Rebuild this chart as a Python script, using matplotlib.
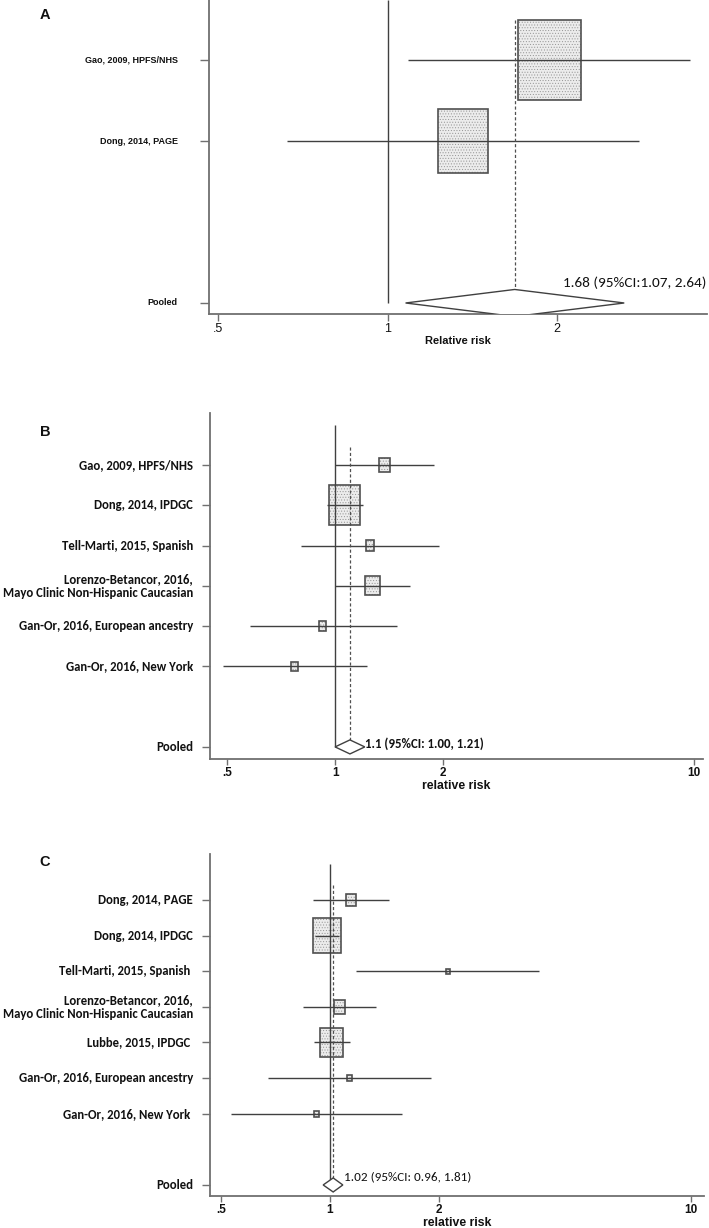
import numpy as np
import matplotlib
matplotlib.use("Agg")
import matplotlib.pyplot as plt
from matplotlib import font_manager as fm
from matplotlib.patches import Rectangle, Polygon
from matplotlib.transforms import ScaledTranslation

# datos de cada panel (riesgo relativo, IC95%, peso %)
labels_a = ["Gao, 2009, HPFS/NHS", "Dong, 2014, PAGE"]
rr_a = [1.94, 1.36]
lo_a = [1.085, 0.662]
hi_a = [3.44, 2.79]
wt_a = [60.7, 39.3]
pool_a = [1.68, 1.075, 2.63]
text_a = "1.68 (95%CI:1.07, 2.64)"

labels_b = ["Gao, 2009, HPFS/NHS", "Dong, 2014, IPDGC", "Tell-Marti, 2015, Spanish",
            "Lorenzo-Betancor, 2016,\nMayo Clinic Non-Hispanic Caucasian",
            "Gan-Or, 2016, European ancestry", "Gan-Or, 2016, New York"]
rr_b = [1.374, 1.061, 1.253, 1.271, 0.921, 0.772]
lo_b = [1.0, 0.949, 0.805, 1.0, 0.578, 0.486]
hi_b = [1.89, 1.196, 1.943, 1.62, 1.485, 1.231]
wt_b = [8.1, 65.2, 4.6, 14.6, 3.8, 3.8]
pool_b = [1.1, 1.0, 1.21]
text_b = "1.1 (95%CI: 1.00, 1.21)"

labels_c = ["Dong, 2014, PAGE", "Dong, 2014, IPDGC", "Tell-Marti, 2015, Spanish ",
            "Lorenzo-Betancor, 2016,\nMayo Clinic Non-Hispanic Caucasian",
            "Lubbe, 2015, IPDGC ", "Gan-Or, 2016, European ancestry", "Gan-Or, 2016, New York "]
rr_c = [1.143, 0.98, 2.124, 1.065, 1.01, 1.131, 0.918]
lo_c = [0.897, 0.91, 1.182, 0.841, 0.90, 0.675, 0.532]
hi_c = [1.456, 1.06, 3.78, 1.341, 1.135, 1.903, 1.586]
wt_c = [6.5, 49.6, 0.9, 7.9, 32.3, 1.4, 1.4]
pool_c = [1.02, 0.957, 1.085]
text_c = "1.02 (95%CI: 0.96, 1.81)"


def pick(names):
    for n in names:
        try:
            fm.findfont(fm.FontProperties(family=n), fallback_to_default=False)
            return n
        except Exception:
            pass
    return "DejaVu Sans"


narrow = pick(["Liberation Sans Narrow", "Arial Narrow"])
arial = pick(["Liberation Sans", "Arial"])
calib = pick(["Carlito", "Lato", "Open Sans"])
if narrow == "DejaVu Sans":
    narrow = arial

plt.rcParams["hatch.linewidth"] = 0.4
W, H = 709, 1228
fig = plt.figure(figsize=(W / 100, H / 100), dpi=100)

LINE = "#404040"
SPINE = "#707070"


def fit(texts, ref, target_px):
    # ajusta el tamano de letra para que el texto de referencia mida target_px de ancho
    r = fig.canvas.get_renderer()
    wpx = ref.get_window_extent(r).width
    f = target_px / wpx
    for t in texts:
        t.set_fontsize(t.get_fontsize() * f)


def forest(rect, labels, rr, lo, hi, wt, pool, ptext, xlim, ylim, xticks, xticklab,
           k, aspect, dh, dash_top, vtop, lab_font, lab_weight, lab_off, lab_fit,
           tick_font, tick_weight, tick_size, tick_len, xlab, xlab_weight, xlab_size,
           ann_xy, ann_px, ann_weight):
    ax = fig.add_axes([rect[0] / W, 1 - rect[3] / H, (rect[2] - rect[0]) / W, (rect[3] - rect[1]) / H])
    n = len(labels)
    rows = np.arange(1, n + 1)
    prow = n + 2
    for x, y, l, h, w in zip(rr, rows, lo, hi, wt):
        side = k * np.sqrt(w) / 100.0
        tr = fig.dpi_scale_trans + ScaledTranslation(x, y, ax.transData)
        ax.add_patch(Rectangle((-side / 2, -side * aspect / 2), side, side * aspect, transform=tr,
                               facecolor="#ececec", edgecolor="#949494", hatch="......", lw=0, zorder=1))
        ax.add_patch(Rectangle((-side / 2, -side * aspect / 2), side, side * aspect, transform=tr,
                               fill=False, edgecolor="#505050", lw=1.2, zorder=1.5))
    ax.hlines(rows, lo, hi, color=LINE, lw=1.0, zorder=2)
    ax.vlines(1.0, vtop, prow, color=LINE, lw=1.0, zorder=2)
    ax.vlines(pool[0], dash_top, prow - dh, color="#505050", lw=0.9, linestyles=(0, (2.5, 1.8)), zorder=2)
    ax.add_patch(Polygon([(pool[1], prow), (pool[0], prow - dh), (pool[2], prow), (pool[0], prow + dh)],
                         closed=True, facecolor="white", edgecolor=LINE, lw=1.0, zorder=3))
    ann = ax.text(ann_xy[0], prow + ann_xy[1], ptext, family=calib, fontsize=9, weight=ann_weight,
                  ha="left", va="center", color="#111111", zorder=4)

    labs = []
    for y, lab in zip(list(rows) + [prow], list(labels) + ["Pooled"]):
        labs.append(ax.annotate(lab, xy=(0, y), xycoords=("axes fraction", "data"), xytext=(-lab_off, 0),
                                textcoords="offset points", ha="right", va="center", family=lab_font,
                                fontsize=9, weight=lab_weight, color="#111111", linespacing=1.15))

    ax.set_xscale("log")
    ax.set_xlim(*xlim)
    ax.set_ylim(*ylim)
    ax.set_xticks(xticks)
    ax.set_xticklabels(xticklab, family=tick_font, weight=tick_weight, fontsize=tick_size, color="#111111")
    ax.minorticks_off()
    ax.set_yticks(list(rows) + [prow])
    ax.set_yticklabels([])
    ax.tick_params(axis="y", length=tick_len + 1.5, width=1.0, color=SPINE, direction="out")
    ax.tick_params(axis="x", length=tick_len, width=1.0, color=SPINE, direction="out", pad=1.5)
    for s in ["top", "right"]:
        ax.spines[s].set_visible(False)
    for s in ["left", "bottom"]:
        ax.spines[s].set_color(SPINE)
        ax.spines[s].set_linewidth(1.3)
    ax.annotate(xlab, xy=(0.5, 0), xycoords="axes fraction", xytext=(0, -19.5),
                textcoords="offset points", ha="center", va="center", family=arial,
                weight=xlab_weight, fontsize=xlab_size, color="#111111")
    fit(labs, labs[lab_fit[0]], lab_fit[1])
    fit([ann], ann, ann_px)
    return ax


# A
forest((209, 0, 707, 314), labels_a, rr_a, lo_a, hi_a, wt_a, pool_a, text_a,
       (0.481, 3.69), (4.136, 0.259), [0.5, 1, 2], [".5", "1", "2"],
       8.1, 1.27, 0.167, 0.51, 0.259, narrow, "bold", 22.5, (0, 94),
       arial, "normal", 9, 5, "Relative risk", "bold", 8, (2.05, -0.25), 143, "normal")
# B
forest((210, 413, 703, 759), labels_b, rr_b, lo_b, hi_b, wt_b, pool_b, text_b,
       (0.448, 10.61), (8.30, -0.29), [0.5, 1, 2, 10], [".5", "1", "2", "10"],
       3.8, 1.3, 0.174, 0.55, 0.0, calib, "bold", 12.2, (3, 191),
       arial, "bold", 8.5, 4, "relative risk", "bold", 8.8, (1.215, -0.08), 120, "bold")
# C
forest((210, 854, 704, 1196), labels_c, rr_c, lo_c, hi_c, wt_c, pool_c, text_c,
       (0.465, 10.86), (9.31, -0.291), [0.5, 1, 2, 10], [".5", "1", "2", "10"],
       3.95, 1.28, 0.197, 0.58, 0.0, calib, "bold", 12.2, (3, 191),
       arial, "bold", 8.5, 4, "relative risk", "bold", 8.8, (1.09, -0.22), 127, "normal")

for lt, yy in zip(["A", "B", "C"], [15, 432, 862]):
    fig.text(45 / W, 1 - yy / H, lt, family=arial, weight="bold", fontsize=10.5,
             ha="center", va="center", color="#111111")

fig.savefig("out.png", dpi=100)
